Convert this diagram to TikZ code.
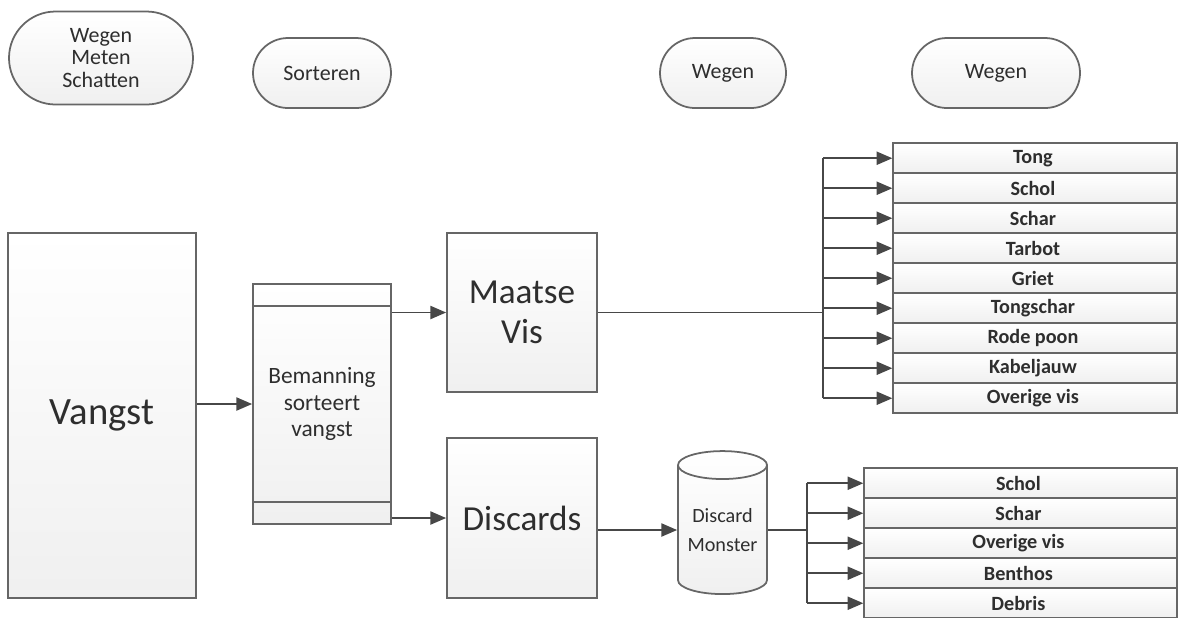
\documentclass[tikz,border=0pt]{standalone}
\usepackage{fontspec}
\setmainfont{Carlito}
\usetikzlibrary{arrows.meta, positioning, matrix, shapes.misc, shapes.geometric}
\colorlet{myline}{black!72}
\colorlet{myedge}{black!60}
\colorlet{mytext}{black!82}
\tikzset{
  >={Triangle[length=9pt,width=7.5pt]}, % filled heads as in the flow chart
  box/.style={draw=myedge, line width=1pt, top color=white, bottom color=black!6, text=mytext, align=center, inner sep=0},
  term/.style={box, rounded rectangle, minimum height=1.4cm, font=\fontsize{12.5}{13}\selectfont},
  big/.style={box, minimum width=3cm, font=\fontsize{20}{23}\selectfont},
  connect/.style={myline, line width=1pt},
  connect arrow/.style={connect, ->}
}

\begin{document}
\begin{tikzpicture}[
    list/.style={matrix of nodes, inner sep=0, row sep=-1pt, nodes={box, font=\bfseries\fontsize{11.5}{12}\selectfont, minimum height=0.6cm}}
  ]
  \useasboundingbox (0,0) rectangle (23.56,-12.34);

  % stappen bovenaan
  \node (wms) [term, minimum width=3.68cm, minimum height=1.86cm] at (2.02,-1.16) {Wegen\\Meten\\Schatten};
  \node (sort) [term, minimum width=2.76cm] at (6.44,-1.46) {Sorteren};
  \node (weg1) [term, minimum width=2.52cm] at (14.46,-1.46) {Wegen};
  \node (weg2) [term, minimum width=3.36cm] at (19.92,-1.46) {Wegen};

  \node (vangst) [box, minimum width=3.76cm, minimum height=7.3cm, font=\fontsize{22}{26}\selectfont] at (2.04,-8.31) {Vangst};

  \node (bem) [box, minimum width=2.76cm, minimum height=4.8cm, font=\fontsize{13.3}{15.3}\selectfont] at (6.44,-8.08) {Bemanning\\sorteert\\vangst};
  \draw[myedge, line width=1pt] ([yshift=-0.46cm]bem.north west) -- ([yshift=-0.46cm]bem.north east);
  \draw[myedge, line width=1pt] ([yshift=0.46cm]bem.south west) -- ([yshift=0.46cm]bem.south east);

  \node (maatse) [big, minimum height=3.18cm] at (10.44,-6.25) {Maatse\\Vis};
  \node (disc) [big, minimum height=3.2cm] at (10.44,-10.36) {Discards};

  \node (monster) [box, cylinder, shape border rotate=90, aspect=0.4, minimum width=1.78cm, minimum height=2.86cm, font=\fontsize{11.5}{16}\selectfont] at (14.45,-10.6) {Discard\\Monster};

  \matrix (maatlist) [list, nodes={minimum width=5.68cm}, anchor=north west] at (17.84,-2.84) {
    Tong \\
    Schol \\
    Schar \\
    Tarbot \\
    Griet \\
    Tongschar \\
    Rode poon \\
    Kabeljauw \\
    Overige vis \\
  };

  \matrix (disclist) [list, nodes={minimum width=6.26cm}, anchor=north west] at (17.26,-9.34) {
    Schol \\
    Schar \\
    Overige vis \\
    Benthos \\
    Debris \\
  };

  \coordinate (mbus) at (16.46,0);
  \coordinate (dbus) at (16.14,0);

  \draw[connect arrow] (vangst.east |- bem.west) -- (bem.west);
  \draw[connect arrow] (bem.east |- maatse.west) -- (maatse.west);
  \draw[connect arrow] (bem.east |- disc.west) -- (disc.west);
  \draw[connect arrow] (disc.east |- monster.west) -- (monster.west);

  \draw[connect] (maatse.east) -- (mbus |- maatse.east);
  \draw[connect] (mbus |- maatlist-1-1) -- (mbus |- maatlist-9-1);
  \foreach \i in {1,...,9}
    \draw[connect arrow] (mbus |- maatlist-\i-1) -- (maatlist-\i-1.west);

  \draw[connect] (monster.east) -- (dbus |- monster.east);
  \draw[connect] (dbus |- disclist-1-1) -- (dbus |- disclist-5-1);
  \foreach \i in {1,...,5}
    \draw[connect arrow] (dbus |- disclist-\i-1) -- (disclist-\i-1.west);

\end{tikzpicture}
\end{document}
